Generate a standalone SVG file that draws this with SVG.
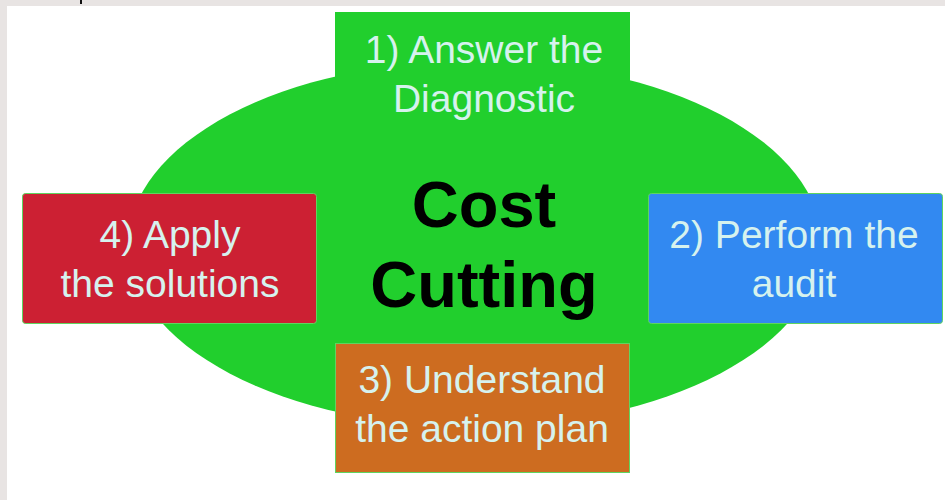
<svg xmlns="http://www.w3.org/2000/svg" width="945" height="500" viewBox="0 0 945 500">
<style>
.box{stroke:#5fd45f;stroke-width:1}
.lbl{font-family:"Liberation Sans",Arial,sans-serif;font-size:39px;fill:#d6f2ee;text-anchor:middle}
.core{font-family:"Liberation Sans",Arial,sans-serif;font-size:65px;font-weight:bold;fill:#000;text-anchor:middle}
</style>
<rect x="0" y="0" width="945" height="500" fill="#ffffff"/>
<rect x="0" y="0" width="945" height="6" fill="#e8e4e3"/>
<rect x="0" y="0" width="7" height="500" fill="#e8e4e3"/>
<rect x="80" y="0" width="2" height="4" fill="#111"/>
<g id="center">
<ellipse cx="475" cy="244" rx="347" ry="183" fill="#21cf2d"/>
<text class="core" x="484" y="227">Cost</text>
<text class="core" x="484" y="307">Cutting</text>
</g>
<g id="connectors"></g>
<g id="step1">
<rect x="335" y="12" width="295" height="130" fill="#21cf2d"/>
<text class="lbl" x="484" y="63">1) Answer the</text>
<text class="lbl" x="484" y="112">Diagnostic</text>
</g>
<g id="step2">
<rect class="box" x="648.5" y="193.5" width="294" height="130" rx="3" fill="#3289f1"/>
<text class="lbl" x="794" y="248">2) Perform the</text>
<text class="lbl" x="794" y="297">audit</text>
</g>
<g id="step3">
<rect class="box" x="335.5" y="343.5" width="294" height="129" fill="#cd6c20"/>
<text class="lbl" x="482" y="393">3) Understand</text>
<text class="lbl" x="482" y="442">the action plan</text>
</g>
<g id="step4">
<rect class="box" x="22.5" y="193.5" width="294" height="130" rx="3" fill="#cc2033"/>
<text class="lbl" x="170" y="248">4) Apply</text>
<text class="lbl" x="170" y="297">the solutions</text>
</g>
</svg>
